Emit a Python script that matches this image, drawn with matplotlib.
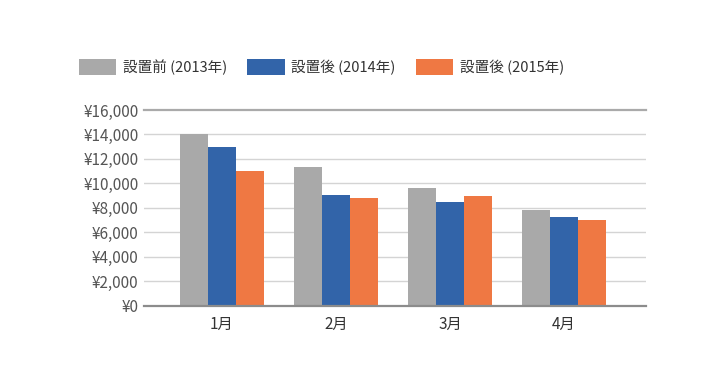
import matplotlib.pyplot as plt
import numpy as np

plt.rcParams['font.family'] = ['Noto Sans CJK JP', 'DejaVu Sans']

# data
months = ['1月', '2月', '3月', '4月']
series_names = ['設置前 (2013年)', '設置後 (2014年)', '設置後 (2015年)']
before_2013 = [14000, 11350, 9600, 7800]
after_2014 = [13000, 9050, 8480, 7250]
after_2015 = [11000, 8800, 8950, 7000]
colors = ['#a9a9a9', '#3264a9', '#ef7843']

y_ticks = [0, 2000, 4000, 6000, 8000, 10000, 12000, 14000, 16000]

fig = plt.figure(figsize=(7.26, 3.90), dpi=100)
ax = fig.add_axes([144 / 726, 1 - 305.7 / 390, 502 / 726, 195.7 / 390])

x = np.arange(len(months))
width = 0.2456
values = [before_2013, after_2014, after_2015]
handles = []
for i, (vals, c, name) in enumerate(zip(values, colors, series_names)):
    b = ax.bar(x + (i - 1) * width, vals, width, color=c, label=name, zorder=3)
    handles.append(b)

ax.set_xlim(-0.684, 3.719)
ax.set_ylim(0, 16000)
ax.set_yticks(y_ticks)
ax.set_yticklabels([f'¥{v:,}' for v in y_ticks])
ax.set_xticks(x)
ax.set_xticklabels(months)

# gridlines
for v in y_ticks[1:-1]:
    ax.axhline(v, color='#d4d4d4', lw=1.0, zorder=1)
ax.axhline(16000, color='#aaaaaa', lw=1.6, zorder=1, clip_on=False)
ax.axhline(0, color='#8c8c8c', lw=1.6, zorder=4, clip_on=False)

for s in ax.spines.values():
    s.set_visible(False)
ax.tick_params(axis='both', length=0, labelsize=11, labelcolor='#555555')
ax.tick_params(axis='y', pad=4)
ax.tick_params(axis='x', pad=7)
for lbl in ax.get_xticklabels():
    lbl.set_color('#333333')

fig.legend(handles=handles, loc='upper left', bbox_to_anchor=(79 / 726, 1 - 59 / 390),
           ncol=3, frameon=False, fontsize=10.5, handlelength=2.55, handleheight=1.3,
           handletextpad=0.45, columnspacing=1.4, borderpad=0, borderaxespad=0,
           labelcolor='#333333')

fig.savefig('out.png', dpi=100)
